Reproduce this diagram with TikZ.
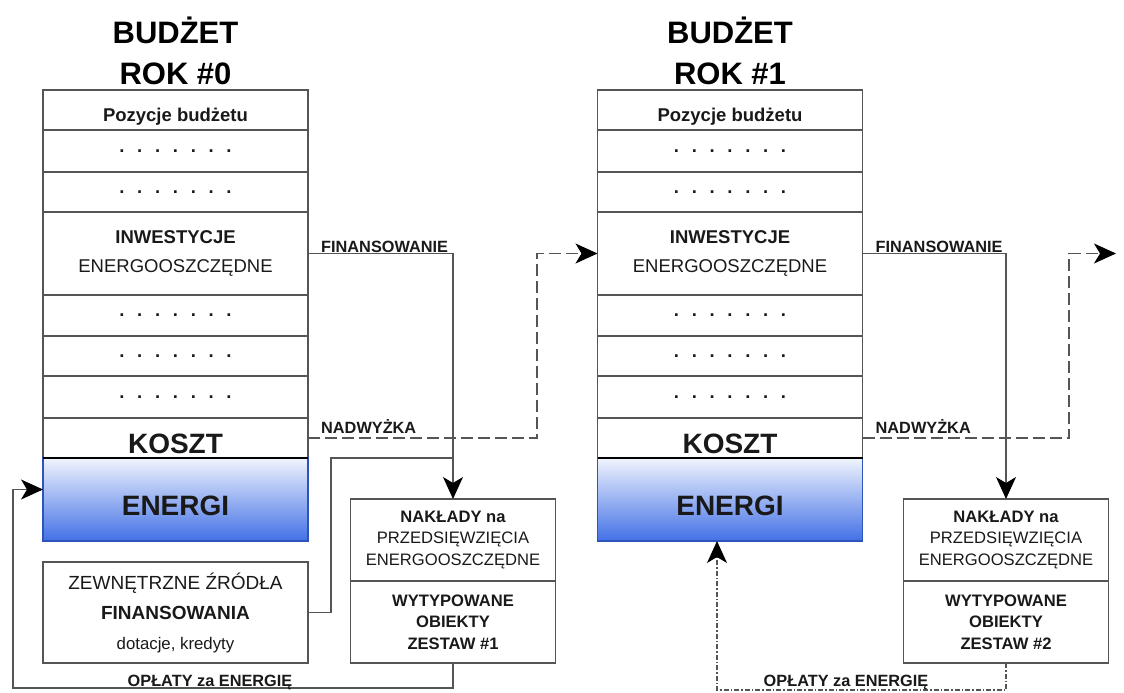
\documentclass[tikz,border=0pt]{standalone}
\usepackage{fontspec}
\setmainfont{Liberation Sans}
\usetikzlibrary{positioning,arrows.meta}

\definecolor{linegray}{RGB}{85,85,85}
\definecolor{textdark}{RGB}{25,25,25}
\definecolor{energytop}{RGB}{240,244,253}
\definecolor{energybot}{RGB}{66,112,230}
\definecolor{energyedge}{RGB}{45,85,185}

\newcommand{\fs}[2]{\fontsize{#1}{#2}\selectfont}
\newcommand{\rowdots}{.\hspace{12.7pt}.\hspace{12.7pt}.\hspace{12.7pt}.\hspace{12.7pt}.\hspace{12.7pt}.\hspace{12.7pt}.}

\tikzset{
  cell/.style={draw=linegray, line width=1.3pt, minimum width=265pt, inner sep=0pt,
    outer sep=0pt, align=center, text=textdark, font=\fs{18.5}{29}\bfseries},
  low/.style={text height=#1, text depth=0pt},
  headtext/.style={align=center, font=\fs{31}{41}\bfseries},
  big/.style={font=\fs{28}{30}\bfseries},
  energy/.style={cell, big, draw=energyedge, top color=energytop, bottom color=energybot},
  smallbox/.style={draw=linegray, line width=1.3pt, minimum width=205pt, minimum height=82pt,
    inner sep=0pt, outer sep=0pt, align=center, text=textdark, font=\fs{16.6}{21.5}\bfseries},
  lbl/.style={font=\fs{16.3}{18}\bfseries, text=textdark, inner sep=1pt},
  conn/.style={draw=linegray, line width=1.2pt},
  arrowtip/.style={-{Stealth[length=22pt,width=20pt,inset=6pt,black]}},
  dashline/.style={conn, dash pattern=on 12pt off 5pt},
  dotline/.style={conn, dash pattern=on 5pt off 2pt on 1.5pt off 2pt},
}

\begin{document}
\begin{tikzpicture}[x=1pt, y=-1pt]
  \useasboundingbox (0,0) rectangle (1124,693);

  % budget columns, year 0 and year 1
  \foreach \c/\x in {0/175.5, 1/730} {
    \node[headtext] (head\c) at (\x,51) {BUDŻET\\ROK \#\c};
    \node[cell, low=23pt, minimum height=40pt, anchor=north] (poz\c) at (\x,90) {Pozycje budżetu};
    \node[cell, minimum height=42pt, below=0pt of poz\c] (da\c) {\rowdots};
    \node[cell, minimum height=40pt, below=0pt of da\c] (db\c) {\rowdots};
    \node[cell, minimum height=83pt, below=0pt of db\c] (inw\c) {INWESTYCJE\\\mdseries ENERGOOSZCZĘDNE};
    \node[cell, minimum height=41pt, below=0pt of inw\c] (dc\c) {\rowdots};
    \node[cell, minimum height=40pt, below=0pt of dc\c] (dd\c) {\rowdots};
    \node[cell, minimum height=42pt, below=0pt of dd\c] (de\c) {\rowdots};
    \node[cell, big, low=30pt, minimum height=40pt, below=0pt of de\c] (kosz\c) {KOSZT};
    \node[energy, low=31pt, minimum height=83pt, below=0pt of kosz\c] (en\c) {ENERGI};
    \draw[line width=1.8pt] (en\c.north west) -- (en\c.north east);
  }

  % outlay boxes
  \node[smallbox, anchor=north] (nak0) at (453,499) {NAKŁADY na\\\mdseries PRZEDSIĘWZIĘCIA\\\mdseries ENERGOOSZCZĘDNE};
  \node[smallbox, below=0pt of nak0] (wyt0) {WYTYPOWANE\\OBIEKTY\\ZESTAW \#1};
  \node[smallbox, anchor=north] (nak1) at (1006,499) {NAKŁADY na\\\mdseries PRZEDSIĘWZIĘCIA\\\mdseries ENERGOOSZCZĘDNE};
  \node[smallbox, below=0pt of nak1] (wyt1) {WYTYPOWANE\\OBIEKTY\\ZESTAW \#2};

  \node[cell, anchor=north, minimum height=101pt, font=\fs{19}{30}] (zew0) at (175.5,562)
    {ZEWNĘTRZNE ŹRÓDŁA\\\bfseries FINANSOWANIA\\\fs{16.8}{30}dotacje, kredyty};

  % funding
  \foreach \c in {0,1} {
    \draw[conn, arrowtip] (inw\c.east) -| (nak\c.north);
    \node[lbl, anchor=south west] (fin\c) at ([xshift=12pt]inw\c.east) {FINANSOWANIE};
    \node[lbl, anchor=south west] (nad\c) at ([xshift=12pt,yshift=3pt]kosz\c.east) {NADWYŻKA};
  }

  % surplus carried over
  \coordinate (turn0) at (537,253.5);
  \coordinate (turn1) at (1069,253.5);
  \coordinate (out1) at (1116,253.5);
  \draw[dashline, arrowtip] (kosz0.east) -| (turn0) -- (inw1.west);
  \draw[dashline, arrowtip] (kosz1.east) -| (turn1) -- (out1);

  % external sources
  \coordinate (zjoin) at (331,458);
  \draw[conn] (zew0.east) -| (zjoin) -- (zjoin -| nak0.north);

  % energy payments
  \coordinate (ret0) at (13,688);
  \draw[conn, arrowtip] (wyt0.south) |- (ret0) |- ([yshift=10pt]en0.west);
  \node[lbl, anchor=base] (opl0) at (210,686) {OPŁATY za ENERGIĘ};
  \coordinate (ret1) at (717,690);
  \draw[dotline, arrowtip] (wyt1.south) |- (ret1) -- (ret1 |- en1.south);
  \node[lbl, anchor=base] (opl1) at (846,686) {OPŁATY za ENERGIĘ};
\end{tikzpicture}
\end{document}
